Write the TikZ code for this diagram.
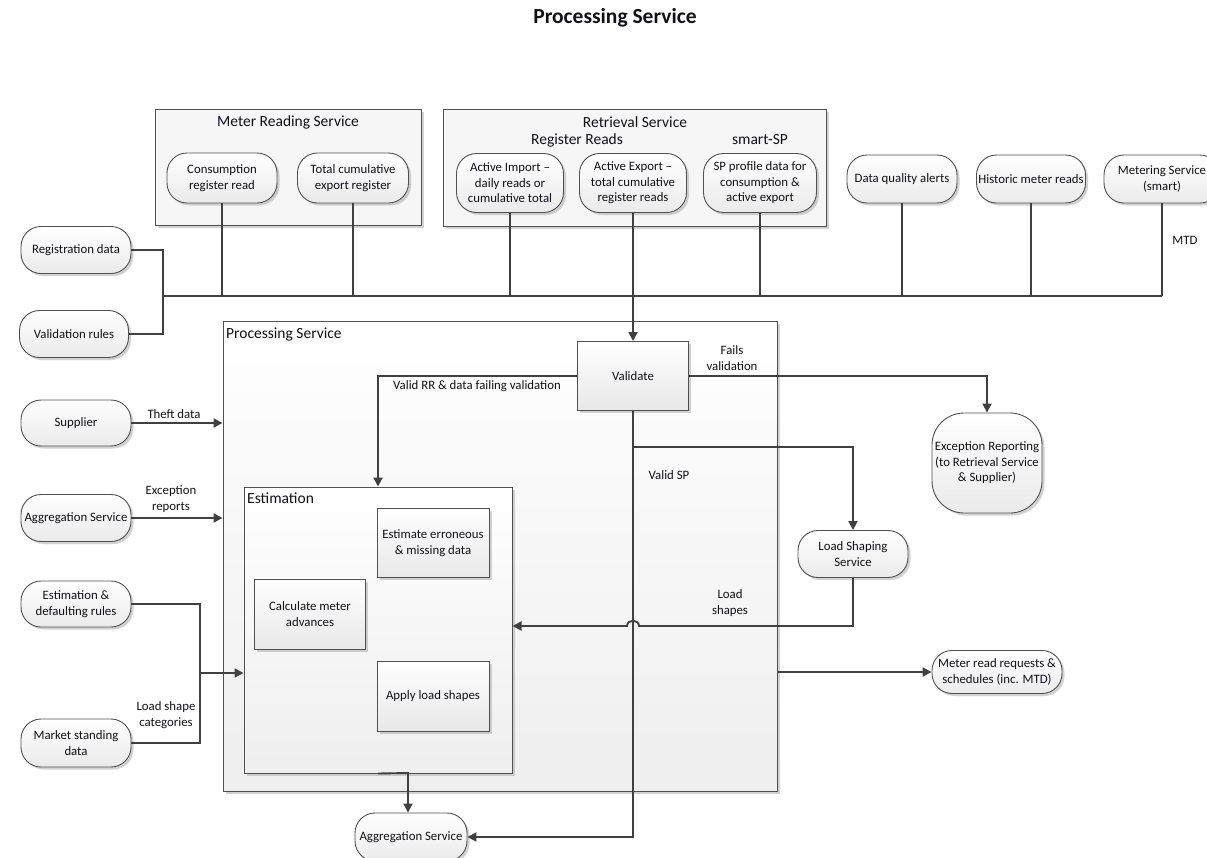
\documentclass[tikz,border=0pt]{standalone}
\usepackage{fontspec}
\setmainfont{Carlito}
\usetikzlibrary{shadows,arrows.meta,calc}
\definecolor{ln}{HTML}{404040}
\definecolor{bd}{HTML}{505050}
\definecolor{tx}{HTML}{10101C}
\begin{document}
\begin{tikzpicture}[x=1pt,y=-1pt,
  every node/.style={font=\fontsize{12.8}{15.5}\selectfont, text=tx, align=center, inner sep=0pt},
  shade/.style={drop shadow={shadow xshift=2.5pt,shadow yshift=-2.5pt,fill=black!35}},
  pill/.style={draw=bd, line width=0.9pt, rounded corners=20pt, top color=white, bottom color=gray!16, shade},
  bigpill/.style={pill, rounded corners=32pt},
  stepbox/.style={draw=bd, line width=1pt, rectangle, top color=white, bottom color=gray!18, shade},
  svcbox/.style={draw=bd, line width=1pt, rectangle, fill=gray!7, shade},
  procbox/.style={draw=bd, line width=1pt, rectangle, top color=white, bottom color=gray!13, shade},
  heading/.style={font=\fontsize{15.5}{18}\selectfont},
  conn/.style={draw=ln, line width=1.9pt},
  arr/.style={conn, -{Triangle[length=9pt,width=9pt]}},
]
\useasboundingbox (0,0) rectangle (1207,857);

% title
\node[font=\bfseries\fontsize{21.5}{24}\selectfont] (title) at (615,18) {Processing Service};

% containers
\node[svcbox, minimum width=266pt, minimum height=116pt] (mrs) at (288,167) {};
\node[heading] (mrsT) at (288,122) {Meter Reading Service};
\node[svcbox, minimum width=383pt, minimum height=117pt] (rs) at (634.5,167.5) {};
\node[heading] (rsT) at (635,122) {Retrieval Service};
\node[heading] (rrT) at (577,140) {Register Reads};
\node[heading] (spT) at (760,140) {smart-SP};

\node[procbox, minimum width=554pt, minimum height=470pt] (proc) at (500,556) {};
\node[heading, anchor=west] (procT) at (226,334) {Processing Service};
\node[procbox, minimum width=268pt, minimum height=286pt] (est) at (378,630) {};
\node[heading, anchor=west] (estT) at (247,498) {Estimation};

% upstream sources
\node[pill, minimum width=110pt, minimum height=50pt] (cons) at (222,178) {Consumption\\register read};
\node[pill, minimum width=111pt, minimum height=50pt] (tce) at (353,178) {Total cumulative\\export register};
\node[pill, minimum width=107pt, minimum height=59pt] (ai) at (510,183) {Active Import --\\daily reads or\\cumulative total};
\node[pill, minimum width=107pt, minimum height=59pt] (ae) at (633,183) {Active Export --\\total cumulative\\register reads};
\node[pill, minimum width=113pt, minimum height=59pt] (sp) at (760,183) {SP profile data for\\consumption \&\\active export};
\node[pill, minimum width=110pt, minimum height=48pt] (dq) at (902,179) {Data quality alerts};
\node[pill, minimum width=109pt, minimum height=48pt] (hist) at (1031,179) {Historic meter reads};
\node[pill, minimum width=116pt, minimum height=48pt] (ms) at (1162,179) {Metering Service\\(smart)};
\node (mtd) at (1185,240) {MTD};

% left-hand inputs
\node[pill, minimum width=110pt, minimum height=47pt] (reg) at (76,250) {Registration data};
\node[pill, minimum width=109pt, minimum height=47pt] (valr) at (74,334) {Validation rules};
\node[pill, minimum width=110pt, minimum height=46pt] (sup) at (76,423) {Supplier};
\node[pill, minimum width=110pt, minimum height=47pt] (aggl) at (76,518) {Aggregation Service};
\node[pill, minimum width=110pt, minimum height=46pt] (edr) at (76,604) {Estimation \&\\defaulting rules};
\node[pill, minimum width=110pt, minimum height=48pt] (msd) at (76,743) {Market standing\\data};

% processing steps
\node[stepbox, minimum width=111pt, minimum height=69pt] (validate) at (633,376) {Validate};
\node[stepbox, minimum width=112pt, minimum height=69pt] (eed) at (433,543) {Estimate erroneous\\\& missing data};
\node[stepbox, minimum width=111pt, minimum height=70pt] (cma) at (310,614) {Calculate meter\\advances};
\node[stepbox, minimum width=112pt, minimum height=70pt] (als) at (433,696) {Apply load shapes};

% outputs
\node[bigpill, minimum width=110pt, minimum height=100pt] (exc) at (987,463) {Exception Reporting\\(to Retrieval Service\\\& Supplier)};
\node[pill, minimum width=110pt, minimum height=47pt] (lss) at (853,554) {Load Shaping\\Service};
\node[pill, minimum width=130pt, minimum height=43pt] (mrr) at (997,672) {Meter read requests \&\\schedules (inc. MTD)};
\node[pill, minimum width=112pt, minimum height=48pt] (aggb) at (411,837) {Aggregation Service};

% data bus
\coordinate (busL) at (163,296);
\coordinate (busR) at (1162,296);
\draw[conn] (busL) -- (busR);
\foreach \n in {cons,tce,ai,sp,dq,hist,ms} \draw[conn] (\n.south) -- (\n.south |- busL);
\draw[conn] (reg.east) -- (reg.east -| busL) -- (valr.east -| busL) -- (valr.east);
\draw[arr] (ae.south) -- (validate.north);

% validation outcomes
\draw[arr] (validate.west) -| (est.north);
\draw[arr] (validate.east) -| (exc.north);
\draw[arr] (validate.south) |- (aggb.east);
\coordinate (vsp) at (633,447);
\draw[arr] (vsp) -| (lss.north);
\coordinate (lsy) at (853,626);
\draw[arr] (lss.south) -- (lsy) -- (639,626) .. controls (639,619) and (627,619) .. (627,626) -- (est.east |- lsy);

% inputs into processing
\draw[arr] (sup.east) -- (sup.east -| proc.west);
\draw[arr] (aggl.east) -- (aggl.east -| proc.west);
\coordinate (jn) at (200,673);
\draw[conn] (edr.east) -| (jn);
\draw[conn] (msd.east) -| (jn);
\draw[arr] (jn) -- (jn -| est.west);
\draw[arr] (proc.east |- mrr.west) -- (mrr.west);
\coordinate (eb) at (408,773);
\draw[arr] (est.south) -- (eb) -- (eb |- aggb.north);

% connector labels
\node (lRR) at (477,386) {Valid RR \& data failing validation};
\node (lFail) at (732,358) {Fails\\validation};
\node (lSP) at (669,475) {Valid SP};
\node (lLS) at (730,603) {Load\\shapes};
\node (lTheft) at (174,414) {Theft data};
\node (lExc) at (171,499) {Exception\\reports};
\node (lCat) at (166,715) {Load shape\\categories};
\end{tikzpicture}
\end{document}
